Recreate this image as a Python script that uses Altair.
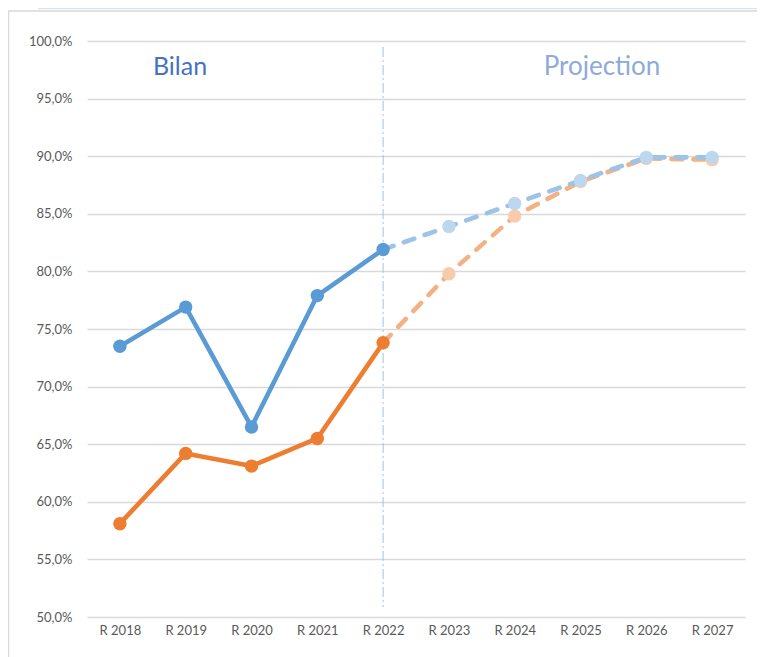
import altair as alt
import pandas as pd

years = ["R 2018", "R 2019", "R 2020", "R 2021", "R 2022",
         "R 2023", "R 2024", "R 2025", "R 2026", "R 2027"]
blue = [0.735, 0.769, 0.665, 0.779, 0.819, 0.839, 0.859, 0.879, 0.899, 0.899]
orange = [0.581, 0.642, 0.631, 0.655, 0.738, 0.798, 0.848, 0.878, 0.898, 0.897]
y_ticks = [0.50, 0.55, 0.60, 0.65, 0.70, 0.75, 0.80, 0.85, 0.90, 0.95, 1.00]
split_year = "R 2022"
split_index = years.index(split_year)
section_labels = ["Bilan", "Projection"]

FONT = "Lato"

def frame(values, lo, hi):
    return pd.DataFrame({"year": years[lo:hi + 1], "value": values[lo:hi + 1]})

last = len(years) - 1
blue_hist = frame(blue, 0, split_index)
blue_proj = frame(blue, split_index, last)
blue_proj_pts = frame(blue, split_index + 1, last)
orange_hist = frame(orange, 0, split_index)
orange_proj = frame(orange, split_index, last)
orange_proj_pts = frame(orange, split_index + 1, last)

x_enc = alt.X("year:N", sort=years,
              scale=alt.Scale(type="point", padding=0.5, domain=years),
              axis=alt.Axis(title=None, domain=False, ticks=False, grid=False,
                            labelPadding=13, labelFont=FONT, labelFontSize=13,
                            labelColor="#595959", labelAngle=0, labelAlign="center"))
y_enc = alt.Y("value:Q",
              scale=alt.Scale(domain=[0.5, 1.0], nice=False, zero=False),
              axis=alt.Axis(title=None, domain=False, ticks=False, values=y_ticks,
                            grid=True, gridColor="#d9d9d9", gridWidth=1.5,
                            labelPadding=15, labelFont=FONT, labelFontSize=13,
                            labelColor="#595959",
                            labelExpr="replace(format(datum.value, '.1%'), '.', ',')"))


def line(df, color, dashed=False):
    kw = dict(color=color, strokeWidth=4.6, strokeCap="round", strokeJoin="round")
    if dashed:
        kw["strokeDash"] = [11, 11]
    return alt.Chart(df).mark_line(**kw).encode(x=x_enc, y=y_enc)


def pts(df, color, size=180):
    return alt.Chart(df).mark_point(filled=True, opacity=1, color=color, size=size,
                                    shape="circle").encode(x=x_enc, y=y_enc)


split_df = pd.DataFrame({"year": [split_year]})
vrule = alt.Chart(split_df).mark_rule(color="#9dc3e6", strokeWidth=1,
                                      strokeDash=[10, 3, 2, 3]).encode(
    x=alt.X("year:N", sort=years, scale=alt.Scale(type="point", padding=0.5, domain=years)),
    y=alt.value(6), y2=alt.value(566))

bilan = alt.Chart(pd.DataFrame({"t": [section_labels[0]]})).mark_text(
    font=FONT, fontSize=25, color="#4472c4", align="center", baseline="alphabetic"
).encode(text="t:N", x=alt.value(93), y=alt.value(34))
proj = alt.Chart(pd.DataFrame({"t": [section_labels[1]]})).mark_text(
    font=FONT, fontSize=26, color="#8eaadb", align="center", baseline="alphabetic"
).encode(text="t:N", x=alt.value(515), y=alt.value(34))

one = pd.DataFrame({"a": [0]})
frame_top = alt.Chart(one).mark_rule(color="#d9d9d9", strokeWidth=1.5).encode(
    x=alt.value(-79), x2=alt.value(680), y=alt.value(-30))
frame_left = alt.Chart(one).mark_rule(color="#d9d9d9", strokeWidth=1.5).encode(
    x=alt.value(-78.5), y=alt.value(-30), y2=alt.value(620))
frame_blue = alt.Chart(one).mark_rule(color="#dae3f3", strokeWidth=1.5).encode(
    x=alt.value(-49), x2=alt.value(673), y=alt.value(-32.5))

chart = alt.layer(
    frame_top, frame_left, frame_blue,
    vrule,
    line(orange_proj, "#f4b183", dashed=True),
    pts(orange_proj_pts, "#f8cbad"),
    line(orange_hist, "#ed7d31"),
    pts(orange_hist, "#ed7d31"),
    line(blue_proj, "#9dc3e6", dashed=True),
    pts(blue_proj_pts, "#bdd7ee"),
    line(blue_hist, "#5b9bd5"),
    pts(blue_hist, "#5b9bd5"),
    bilan, proj,
).properties(
    width=658, height=576,
    padding={"left": 79, "top": 33, "right": 12, "bottom": 40},
    autosize="none",
).configure_view(stroke=None)

chart.save("out.html", embed_options={"renderer": "svg", "actions": False})
